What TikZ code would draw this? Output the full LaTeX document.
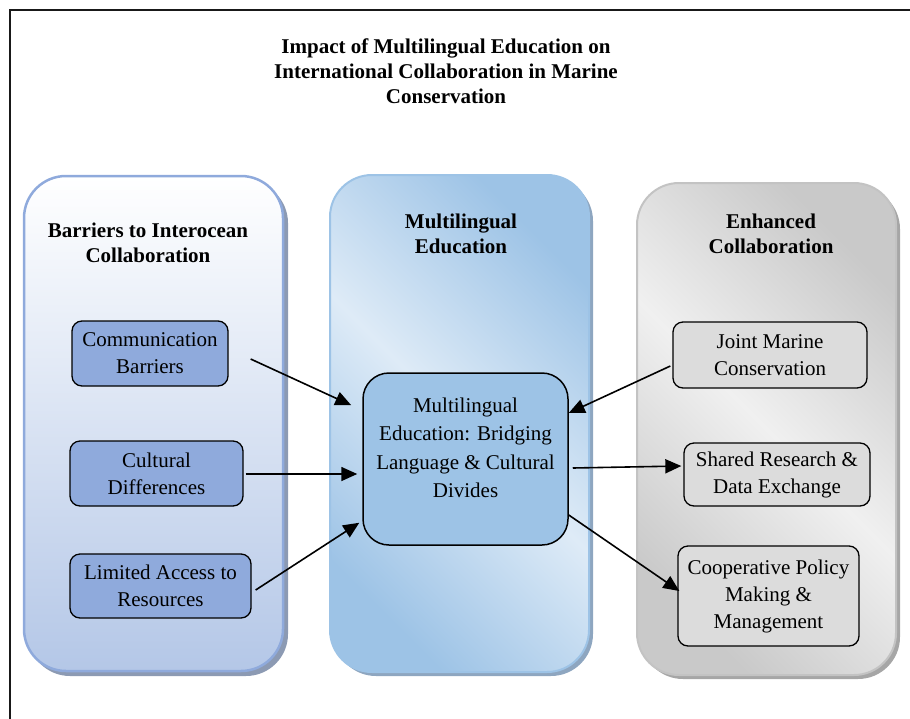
\documentclass[tikz,border=0pt]{standalone}
\usepackage{fontspec}
\setmainfont{Liberation Serif}
\usetikzlibrary{arrows.meta}

% panel colours
\definecolor{lbot}{HTML}{B4C7E7}
\definecolor{lborder}{HTML}{8FAADC}
\definecolor{lshadow}{HTML}{8C9AB3}
\definecolor{mdark}{HTML}{9DC3E6}
\definecolor{mlight}{HTML}{DEEBF7}
\definecolor{mborder}{HTML}{9DC3E6}
\definecolor{mshadow}{HTML}{8EA6C0}
\definecolor{gdark}{HTML}{C9C9C9}
\definecolor{glight}{HTML}{F0F0F0}
\definecolor{gborder}{HTML}{C3C3C3}
\definecolor{gshadow}{HTML}{A6A6A6}
% box colours
\definecolor{lbox}{HTML}{8FAADC}
\definecolor{cbox}{HTML}{9DC3E6}
\definecolor{rbox}{HTML}{DCDCDC}

\pgfdeclarehorizontalshading{bluediag}{100bp}{color(0bp)=(mdark); color(25bp)=(mdark); color(50bp)=(mlight); color(75bp)=(mdark); color(100bp)=(mdark)}
\pgfdeclarehorizontalshading{greydiag}{100bp}{color(0bp)=(gdark); color(25bp)=(gdark); color(50bp)=(glight); color(75bp)=(gdark); color(100bp)=(gdark)}

\begin{document}
\begin{tikzpicture}[x=1pt,y=-1pt,
  panel/.style={rounded corners=42pt},
  heading/.style={align=center, inner sep=0pt, font=\bfseries\fontsize{21}{25}\selectfont},
  box/.style={draw=black, line width=1.3pt, rounded corners=10pt, align=center,
    inner sep=0pt, font=\fontsize{21}{27}\selectfont},
  lnode/.style={box, fill=lbox},
  rnode/.style={box, fill=rbox},
  cnode/.style={draw=black, line width=1.5pt, rounded corners=26pt, fill=cbox, inner sep=0pt},
  ctext/.style={align=center, inner sep=0pt, font=\fontsize{21}{28.5}\selectfont},
  arr/.style={line width=1.6pt, -{Triangle[length=16pt,width=14pt]}}]

\useasboundingbox (0,0) rectangle (910,718);
\clip (0,0) rectangle (910,718);

% outer frame
\draw[line width=2pt, black!90] (10,10) rectangle (940,760);

% title
\node[heading] (title) at (446,71)
  {Impact of Multilingual Education on\\International Collaboration in Marine\\Conservation};

% left panel
\fill[panel, lshadow] (28,181) rectangle (288,676);
\draw[panel, line width=2.5pt, lborder, top color=white, bottom color=lbot]
  (24,176) rectangle (283,671);
% middle panel
\fill[panel, mshadow] (334,179) rectangle (593,676);
\draw[panel, line width=2pt, mborder, shading=bluediag, shading angle=45]
  (330,175) rectangle (589,672);
% right panel
\fill[panel, gshadow] (641,187) rectangle (900,679);
\draw[panel, line width=2pt, gborder, shading=greydiag, shading angle=45]
  (637,183) rectangle (896,675);

% panel headings
\node[heading] (hLeft) at (148,243) {Barriers to Interocean\\Collaboration};
\node[heading] (hMid) at (461,233.5) {Multilingual\\Education};
\node[heading] (hRight) at (771,233.5) {Enhanced\\Collaboration};

% barrier boxes
\node[lnode, minimum width=156pt, minimum height=65pt] (comm) at (150,353.5) {Communication\\Barriers};
\node[lnode, minimum width=173pt, minimum height=65pt] (cult) at (156.5,473.5) {Cultural\\Differences};
\node[lnode, minimum width=181pt, minimum height=64pt] (lim) at (160.5,586) {Limited Access to\\Resources};

% central box
\node[cnode, minimum width=205pt, minimum height=172pt] (central) at (465.5,459) {};
\node[ctext] (centralText) at (465.5,448)
  {Multilingual\\Education: Bridging\\Language \& Cultural\\Divides};

% collaboration boxes
\node[rnode, minimum width=194pt, minimum height=66pt] (joint) at (770,355) {Joint Marine\\Conservation};
\node[rnode, minimum width=186pt, minimum height=63pt] (shared) at (777,474.5) {Shared Research \&\\Data Exchange};
\node[rnode, minimum width=181pt, minimum height=100pt] (coop) at (768.5,596) {Cooperative Policy\\Making \&\\Management};

% connectors
\draw[arr] ([shift={(22,5.5)}]comm.east) -- ([shift={(-11,33)}]central.north west);
\draw[arr] ([shift={(2,0.5)}]cult.east) -- ([shift={(-5,15)}]central.west);
\draw[arr] ([shift={(4,4)}]lim.east) -- ([shift={(-3,-23)}]central.south west);
\draw[arr] ([shift={(-2,11)}]joint.west) -- ([shift={(0,-46)}]central.east);
\draw[arr] ([shift={(4,9)}]central.east) -- ([shift={(-2,-8.5)}]shared.west);
\draw[arr] ([shift={(0,56)}]central.east) -- ([shift={(2,-5)}]coop.west);
\end{tikzpicture}
\end{document}
